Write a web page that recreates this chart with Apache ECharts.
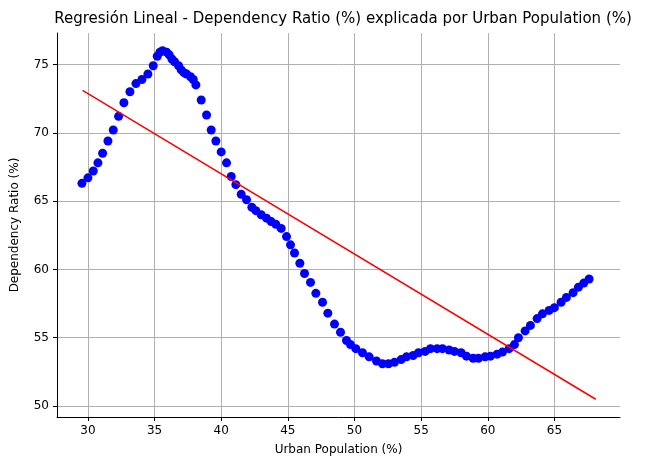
<!DOCTYPE html>
<html>
<head>
<meta charset="utf-8">
<script src="https://cdn.jsdelivr.net/npm/echarts@6/dist/echarts.min.js"></script>
<style>html,body{margin:0;padding:0;background:#fff}#c{width:667px;height:470px}</style>
</head>
<body>
<div id="c"></div>
<script>
// scatter points: [urban population, dependency ratio]
const urbanPop = [29.55,30.0,30.4,30.75,31.1,31.5,31.9,32.3,32.7,33.15,33.6,34.05,34.5,34.9,35.2,35.4,35.6,35.9,36.1,36.3,36.5,36.8,37.0,37.2,37.4,37.7,37.9,38.1,38.5,38.9,39.25,39.6,40.0,40.4,40.75,41.1,41.5,41.9,42.3,42.6,43.0,43.4,43.75,44.1,44.5,44.9,45.2,45.5,45.9,46.25,46.7,47.1,47.6,48.0,48.5,48.95,49.4,49.7,50.1,50.6,51.1,51.65,52.1,52.55,53.0,53.5,53.9,54.4,54.8,55.3,55.7,56.2,56.6,57.1,57.5,58.0,58.4,58.9,59.3,59.8,60.2,60.7,61.1,61.6,62.0,62.3,62.8,63.2,63.7,64.1,64.6,65.0,65.5,65.9,66.4,66.8,67.2,67.6];
const depRatio = [66.3,66.7,67.2,67.8,68.5,69.4,70.2,71.2,72.2,73.0,73.6,73.9,74.3,74.9,75.6,75.9,76.0,75.9,75.7,75.4,75.2,74.9,74.6,74.4,74.3,74.1,73.9,73.5,72.4,71.3,70.2,69.4,68.6,67.8,66.8,66.2,65.5,65.1,64.55,64.3,64.0,63.75,63.5,63.3,63.0,62.4,61.8,61.2,60.45,59.7,59.05,58.25,57.6,56.8,56.0,55.4,54.8,54.5,54.2,53.9,53.6,53.3,53.1,53.1,53.2,53.4,53.6,53.7,53.9,54.0,54.2,54.2,54.2,54.1,54.0,53.9,53.65,53.5,53.5,53.6,53.65,53.8,53.95,54.2,54.5,55.0,55.5,55.9,56.4,56.75,57.0,57.2,57.6,57.95,58.3,58.7,59.0,59.3];
// fitted line endpoints
const fitX = [29.6, 68.1];
const fitY = [73.1, 50.5];
const xTicks = [30, 35, 40, 45, 50, 55, 60, 65];
const yTicks = [50, 55, 60, 65, 70, 75];

const font = 'DejaVu Sans';
const chart = echarts.init(document.getElementById('c'), null, {renderer: 'canvas'});
function axis(ticks) {
  return {
    type: 'value',
    axisLine: {show: true, onZero: false, lineStyle: {color: '#000', width: 1}},
    axisTick: {show: true, length: 4, customValues: ticks, lineStyle: {color: '#000'}},
    axisLabel: {color: '#000', fontFamily: font, fontSize: 12, customValues: ticks},
    splitLine: {show: true, lineStyle: {color: '#b0b0b0', width: 1}},
    nameLocation: 'middle',
    nameTextStyle: {color: '#000', fontFamily: font, fontSize: 12}
  };
}
chart.setOption({
  animation: false,
  title: {text: 'Regresión Lineal - Dependency Ratio (%) explicada por Urban Population (%)', left: 338, top: 7, textAlign: 'center',
    textStyle: {fontFamily: font, fontSize: 15, fontWeight: 'normal', color: '#000'}},
  grid: {left: 57, right: 47, top: 33, bottom: 53},
  xAxis: Object.assign(axis(xTicks), {min: 27.68, max: 69.92, name: 'Urban Population (%)', nameGap: 27}),
  yAxis: Object.assign(axis(yTicks), {min: 49.2, max: 77.3, name: 'Dependency Ratio (%)', nameGap: 36}),
  series: [
    {type: 'scatter', data: urbanPop.map((x, i) => [x, depRatio[i]]), symbolSize: 9, itemStyle: {color: '#0000ff', opacity: 1}},
    {type: 'line', data: fitX.map((x, i) => [x, fitY[i]]), symbol: 'none', lineStyle: {color: '#ff0000', width: 1.5}}
  ]
});
</script>
</body>
</html>
